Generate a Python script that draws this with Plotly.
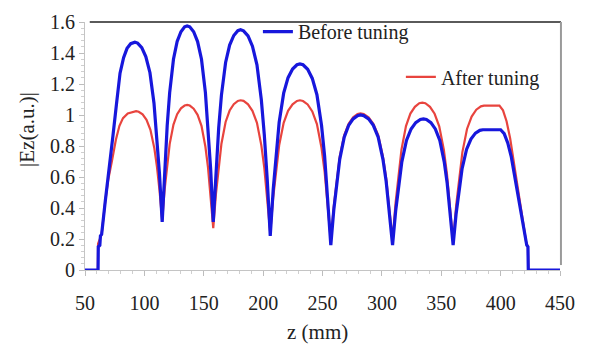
import plotly.graph_objects as go

# ---- data ----
z_before = [50, 61, 61.2, 62.5, 63, 64, 67, 69.5, 71.5, 73.6, 76.5, 79.5, 82.5, 85.4, 88.5, 92,
            94.3, 97.8, 101.2, 104.7, 108.1, 110.4, 112.7, 115,
            117.1, 119.2, 121.3, 124.5, 127.6, 130.8, 133.9, 136,
            138.2, 141.5, 144.8, 148.1, 151.4, 153.6, 155.8, 158,
            160.3, 162.6, 164.9, 168.4, 171.8, 175.3, 178.7, 181,
            183.5, 187.3, 191, 194.8, 198.5, 201, 203.5, 206,
            208.5, 211, 213.5, 217.3, 221, 224.8, 228.5, 231,
            233.6, 237.5, 241.4, 245.3, 249.2, 251.8, 254.4, 257,
            259.5, 262, 264.5, 268.3, 272, 275.8, 279.5, 282,
            284.7, 288.8, 292.8, 296.9, 300.9, 303.6, 306.3, 309,
            311.6, 314.2, 316.8, 320.7, 324.6, 328.5, 332.4, 335,
            337.5, 341.3, 345, 348.8, 352.5, 355, 357.5, 360,
            362.5, 365, 367.5, 371.3, 375, 378.8, 382.5, 385, 392, 400,
            403, 406, 409, 412, 415, 418, 420.5, 422, 423, 423.3, 450]
ez_before = [0, 0, 0.15, 0.16, 0.22, 0.23, 0.44, 0.59, 0.74, 0.87, 1.07, 1.27, 1.37, 1.43, 1.46, 1.47,
             1.464, 1.435, 1.377, 1.273, 1.076, 0.878, 0.623, 0.31,
             0.652, 0.93, 1.145, 1.36, 1.474, 1.537, 1.569, 1.575,
             1.569, 1.537, 1.474, 1.36, 1.145, 0.93, 0.652, 0.31,
             0.645, 0.918, 1.128, 1.339, 1.451, 1.513, 1.544, 1.55,
             1.543, 1.51, 1.444, 1.324, 1.098, 0.872, 0.579, 0.22,
             0.52, 0.764, 0.953, 1.141, 1.241, 1.297, 1.324, 1.33,
             1.324, 1.295, 1.236, 1.131, 0.932, 0.733, 0.476, 0.16,
             0.387, 0.572, 0.714, 0.857, 0.933, 0.975, 0.996, 1.0,
             0.996, 0.975, 0.933, 0.857, 0.714, 0.572, 0.387, 0.16,
             0.38, 0.559, 0.698, 0.836, 0.91, 0.951, 0.971, 0.975,
             0.971, 0.951, 0.91, 0.836, 0.698, 0.559, 0.38, 0.16,
             0.361, 0.525, 0.652, 0.778, 0.845, 0.883, 0.901, 0.905, 0.907, 0.905,
             0.88, 0.82, 0.73, 0.6, 0.47, 0.33, 0.22, 0.16, 0.15, 0, 0]

z_after = [50, 60.8, 61, 62, 63, 64, 67, 69.5, 72.6, 76, 79, 82, 86, 89.5, 93,
           95.2, 98.5, 101.8, 105.1, 108.4, 110.6, 112.8, 115,
           117.1, 119.2, 121.3, 124.5, 127.6, 130.8, 133.9, 136,
           138.2, 141.5, 144.8, 148.1, 151.4, 153.6, 155.8, 158,
           160.3, 162.6, 164.9, 168.4, 171.8, 175.3, 178.7, 181,
           183.5, 187.3, 191, 194.8, 198.5, 201, 203.5, 206,
           208.5, 211, 213.5, 217.3, 221, 224.8, 228.5, 231,
           233.6, 237.5, 241.4, 245.3, 249.2, 251.8, 254.4, 257,
           259.5, 262, 264.5, 268.3, 272, 275.8, 279.5, 282,
           284.7, 288.8, 292.8, 296.9, 300.9, 303.6, 306.3, 309,
           311.5, 314, 316.5, 320.3, 324, 327.8, 331.5, 334,
           336.6, 340.5, 344.4, 348.3, 352.2, 354.8, 357.4, 360,
           362.6, 365.2, 367.8, 371.7, 375.6, 379.5, 383.4, 386, 392, 399,
           402, 405, 408, 411, 414, 417, 419.5, 421.5, 423, 423.3, 450]
ez_after = [0, 0, 0.17, 0.19, 0.22, 0.23, 0.44, 0.58, 0.70, 0.84, 0.93, 0.98, 1.01, 1.02, 1.025,
            1.021, 1.004, 0.969, 0.905, 0.785, 0.665, 0.51, 0.32,
            0.521, 0.685, 0.812, 0.938, 1.005, 1.043, 1.061, 1.065,
            1.061, 1.041, 1.001, 0.93, 0.795, 0.66, 0.485, 0.27,
            0.493, 0.674, 0.815, 0.955, 1.029, 1.07, 1.091, 1.095,
            1.091, 1.069, 1.027, 0.95, 0.804, 0.659, 0.471, 0.24,
            0.471, 0.659, 0.804, 0.95, 1.027, 1.069, 1.091, 1.095,
            1.09, 1.068, 1.023, 0.941, 0.787, 0.633, 0.434, 0.19,
            0.411, 0.592, 0.731, 0.871, 0.944, 0.985, 1.006, 1.01,
            1.006, 0.985, 0.944, 0.871, 0.731, 0.592, 0.411, 0.19,
            0.43, 0.626, 0.777, 0.929, 1.009, 1.053, 1.076, 1.08,
            1.076, 1.053, 1.008, 0.927, 0.774, 0.621, 0.423, 0.18,
            0.418, 0.611, 0.761, 0.91, 0.99, 1.034, 1.056, 1.06, 1.062, 1.06,
            1.03, 0.96, 0.85, 0.7, 0.54, 0.4, 0.27, 0.18, 0.15, 0, 0]

x_ticks = [50, 100, 150, 200, 250, 300, 350, 400, 450]
y_ticks = [0, 0.2, 0.4, 0.6, 0.8, 1, 1.2, 1.4, 1.6]
y_tick_text = ["0", "0.2", "0.4", "0.6", "0.8", "1", "1.2", "1.4", "1.6"]

SERIF = "Liberation Serif"
BLUE = "#1717dc"
RED = "#e8443e"
TXT = "#222222"

fig = go.Figure()
fig.add_trace(go.Scatter(x=z_after, y=ez_after, mode="lines", name="After tuning",
                         line=dict(color=RED, width=2.2), legend="legend2", showlegend=True))
fig.add_trace(go.Scatter(x=z_before, y=ez_before, mode="lines", name="Before tuning",
                         line=dict(color=BLUE, width=3.2), legend="legend", showlegend=True))

fig.update_layout(
    width=589, height=347,
    showlegend=True,
    margin=dict(l=85, r=29, t=17, b=77),
    paper_bgcolor="white", plot_bgcolor="white",
    font=dict(family=SERIF, color=TXT),
    legend=dict(x=0.364, y=0.961, xanchor="left", yanchor="middle", visible=True,
                bgcolor="rgba(0,0,0,0)", font=dict(family=SERIF, size=20, color=TXT)),
    legend2=dict(x=0.665, y=0.779, xanchor="left", yanchor="middle", visible=True,
                 bgcolor="rgba(0,0,0,0)", font=dict(family=SERIF, size=20, color=TXT)),
    xaxis=dict(range=[50, 450], tickvals=x_ticks, showgrid=False, zeroline=False,
               showline=True, linecolor="#c4c4c4", linewidth=1,
               ticks="outside", ticklen=5, tickcolor="#bdbdbd",
               minor=dict(dtick=10, ticks="outside", ticklen=3, tickcolor="#cfcfcf"),
               tickfont=dict(family=SERIF, size=20, color=TXT),
               ticklabelstandoff=10),
    yaxis=dict(range=[0, 1.6], tickvals=y_ticks, ticktext=y_tick_text, showgrid=False,
               zeroline=False, showline=True, linecolor="#c4c4c4", linewidth=1,
               ticks="outside", ticklen=5, tickcolor="#bdbdbd",
               minor=dict(dtick=0.04, ticks="outside", ticklen=3, tickcolor="#cfcfcf"),
               tickfont=dict(family=SERIF, size=20, color=TXT)),
    shapes=[
        dict(type="line", xref="paper", yref="paper", x0=0.01, x1=1.002, y0=1, y1=1,
             line=dict(color="#5a5a5a", width=2)),
        dict(type="line", xref="paper", yref="paper", x0=1.002, x1=1.002, y0=0.02, y1=1,
             line=dict(color="#9a9a9a", width=2)),
    ],
    annotations=[
        dict(text="|Ez(a.u.)|", xref="paper", yref="paper", x=-0.122, y=0.565,
             textangle=-90, showarrow=False, xanchor="center", yanchor="middle",
             font=dict(family=SERIF, size=21, color=TXT)),
        dict(text="z (mm)", xref="paper", yref="paper", x=0.49, y=-0.249,
             showarrow=False, xanchor="center", yanchor="middle",
             font=dict(family=SERIF, size=21, color=TXT)),
    ],
)

fig.write_html("out.html")
